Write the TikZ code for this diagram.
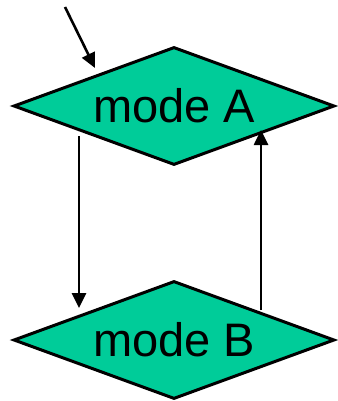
\documentclass[tikz,border=0pt]{standalone}
\usepackage{fontspec}
\setmainfont{Liberation Sans}
\usetikzlibrary{shapes.geometric,arrows.meta}
\definecolor{modegreen}{RGB}{0,204,153}
\tikzset{
  modebox/.style={diamond, draw=black, line width=3pt, fill=modegreen, inner sep=0pt,
    aspect=2.69, minimum width=321pt, minimum height=118pt,
    font=\fontsize{47}{56}\selectfont},
  arr/.style={line width=2.6pt, -{Triangle[length=15pt,width=14pt]}}
}
\begin{document}
\begin{tikzpicture}[x=1pt,y=-1pt]
\useasboundingbox (0,0) rectangle (337,401);
\node[modebox] (A) at (174,106) {mode A};
\node[modebox] (B) at (174,340) {mode B};
\coordinate (init) at (65,7);
\draw[arr] (init) -- ([shift={(-79,-38)}]A.center);
\draw[arr] ([shift={(-95,30)}]A.center) -- ([shift={(-95,-32)}]B.center);
\draw[arr] ([shift={(87,-30)}]B.center) -- ([shift={(87,24)}]A.center);
\end{tikzpicture}
\end{document}
